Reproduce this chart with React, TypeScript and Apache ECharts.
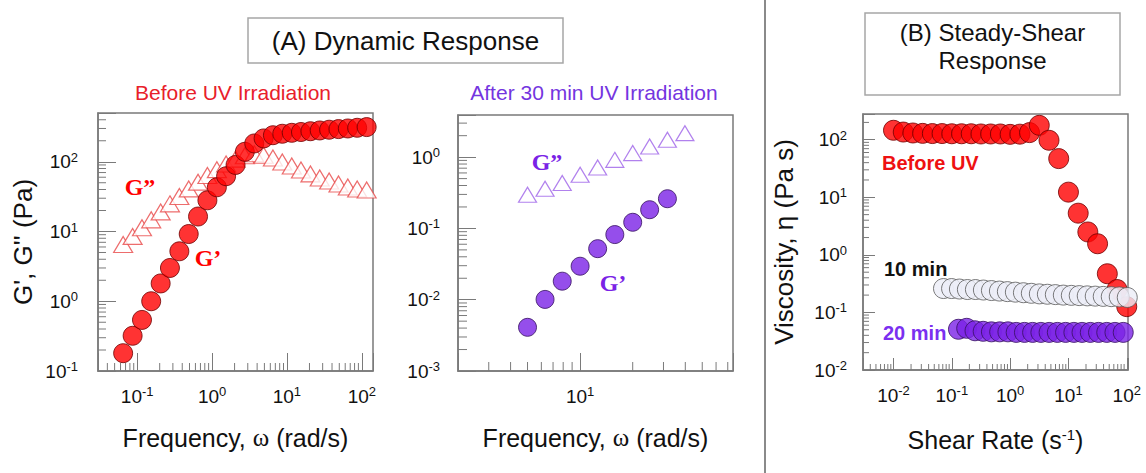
import React, { useEffect, useRef } from 'react';
import * as echarts from 'echarts';

// ---------- Panel A (before UV): frequency sweep ----------
const omegaA = [0.065, 0.087, 0.116, 0.154, 0.206, 0.274, 0.366, 0.488, 0.65, 0.867, 1.16, 1.54, 2.06, 2.74, 3.66, 4.88, 6.5, 8.67, 11.6, 15.4, 20.6, 27.4, 36.6, 48.8, 65, 86.7, 116];
const gPrimeA = [0.18, 0.32, 0.54, 1.0, 1.8, 3.0, 5.2, 9.2, 16.4, 28, 43, 62, 90, 139, 183, 216, 240, 252, 260, 267, 274, 281, 288, 294, 300, 307, 314];
const gDoubleA = [6.5, 8.5, 11.3, 14.7, 19.1, 24.9, 31.8, 40.8, 51, 63.5, 77, 93, 109, 122, 130, 124, 113, 99, 87, 76, 67, 58.5, 53, 48, 43.5, 40.7, 39.4];

// ---------- Panel A (after 30 min UV) ----------
const omegaB = [5.0, 6.3, 7.9, 10, 12.6, 15.8, 20, 25, 31.6, 39.8];
const gPrimeB = [0.0041, 0.0101, 0.0182, 0.0295, 0.052, 0.082, 0.122, 0.183, 0.261];
const gDoubleB = [0.297, 0.36, 0.433, 0.565, 0.716, 0.916, 1.14, 1.41, 1.75, 2.17];

// ---------- Panel B: steady shear ----------
const rateBefore = [0.01, 0.0147, 0.0215, 0.0316, 0.0464, 0.0681, 0.1, 0.147, 0.215, 0.316, 0.464, 0.681, 1, 1.47, 2.15, 3.16, 4.64, 6.81, 10, 14.7, 21.5, 31.6, 46.4, 68.1, 100];
const etaBefore = [146, 136, 131, 129, 128, 128, 127, 127, 127, 126, 126, 126, 124, 125, 133, 178, 98, 47, 12.3, 5.3, 2.5, 1.56, 0.47, 0.25, 0.126];
const rate10 = [0.072, 0.099, 0.135, 0.185, 0.254, 0.348, 0.478, 0.655, 0.897, 1.23, 1.69, 2.31, 3.17, 4.35, 5.96, 8.17, 11.2, 15.3, 21.0, 28.8, 39.5, 54.2, 74.3, 102];
const eta10 = [0.26, 0.26, 0.255, 0.25, 0.25, 0.245, 0.24, 0.235, 0.23, 0.225, 0.22, 0.215, 0.21, 0.207, 0.204, 0.2, 0.198, 0.196, 0.194, 0.192, 0.19, 0.188, 0.186, 0.182];
const rate20 = [0.13, 0.18, 0.25, 0.345, 0.478, 0.662, 0.916, 1.27, 1.76, 2.43, 3.37, 4.66, 6.45, 8.93, 12.4, 17.1, 23.7, 32.8, 45.4, 62.8, 87];
const eta20 = [0.051, 0.053, 0.048, 0.047, 0.046, 0.046, 0.046, 0.045, 0.045, 0.045, 0.045, 0.045, 0.045, 0.045, 0.045, 0.045, 0.045, 0.045, 0.045, 0.045, 0.045];

// axis ranges
const xRanges = [[0.03, 141], [2, 75], [0.003, 105]];
const yRanges = [[0.1, 500], [0.001, 3.9], [0.01, 280]];

const SANS = '"Liberation Sans", Arial, sans-serif';
const SERIF = '"Liberation Serif", "Times New Roman", serif';

const RED = '#ff0000';
const RED_EDGE = '#6e0000';
const RED_TRI = '#e84848';
const PURPLE = '#7a22e6';
const PURPLE_EDGE = '#36105f';
const PURPLE_TRI = '#9d62e8';
const FRAME = '#7a7a7a';

function pairs(xs: number[], ys: number[]) {
  return ys.map((y, i) => [xs[i], y]);
}

function powLabel(v: number) {
  const l = Math.log10(v);
  const e = Math.round(l);
  if (Math.abs(l - e) > 1e-3) return '';
  return `{b|10}{s|${e}}`;
}

const tickRich = {
  b: { fontSize: 19, fontFamily: SANS, color: '#111', lineHeight: 22 },
  s: { fontSize: 13, fontFamily: SANS, color: '#111', lineHeight: 13, verticalAlign: 'top' },
};

function minorValues(min: number, max: number) {
  const out: number[] = [];
  for (let k = Math.floor(Math.log10(min)); k <= Math.ceil(Math.log10(max)); k++) {
    for (let m = 2; m <= 9; m++) {
      const v = m * Math.pow(10, k);
      if (v > min * 1.0001 && v < max * 0.9999) out.push(v);
    }
  }
  return out;
}

const tickLen = [
  { major: 18, minor: 8 },
  { major: 18, minor: 9 },
  { major: 12, minor: 6 },
];

function minorSeries(i: number) {
  const [xmin, xmax] = xRanges[i];
  const [ymin, ymax] = yRanges[i];
  const len = tickLen[i].minor;
  const xs = minorValues(xmin, xmax).map((v) => [v, ymin]);
  const ys = minorValues(ymin, ymax).map((v) => [xmin, v]);
  return [
    {
      type: 'custom',
      xAxisIndex: i,
      yAxisIndex: i,
      encode: { x: 0, y: 1 },
      clip: false,
      z: 5,
      data: xs,
      renderItem: (_p: any, api: any) => {
        const p = api.coord([api.value(0), api.value(1)]);
        return { type: 'line', shape: { x1: p[0], y1: p[1], x2: p[0], y2: p[1] - len }, style: { stroke: FRAME, lineWidth: 1, fill: null } };
      },
    },
    {
      type: 'custom',
      xAxisIndex: i,
      yAxisIndex: i,
      encode: { x: 0, y: 1 },
      clip: false,
      z: 5,
      data: ys,
      renderItem: (_p: any, api: any) => {
        const p = api.coord([api.value(0), api.value(1)]);
        return { type: 'line', shape: { x1: p[0], y1: p[1], x2: p[0] + len, y2: p[1] }, style: { stroke: FRAME, lineWidth: 1, fill: null } };
      },
    },
  ];
}

const nameStyle = {
  fontSize: 25,
  fontFamily: SANS,
  color: '#111',
  rich: {
    w: { fontSize: 25, fontFamily: SERIF, color: '#111' },
    s: { fontSize: 15, fontFamily: SANS, color: '#111', lineHeight: 15, verticalAlign: 'top' },
  },
};
const yNameStyle = { ...nameStyle, fontSize: 26 };

const xNames = ['Frequency, {w|ω} (rad/s)', 'Frequency, {w|ω} (rad/s)', 'Shear Rate (s{s|-1})'];
const yNames = ["G', G'' (Pa)", '', 'Viscosity, η (Pa s)'];
const xNameGap = [54, 54, 57];
const yNameGap = [62, 0, 66];
const yLabelMargin = [20, 18, 16];

function buildOption() {
  const grids = [
    { left: 98, top: 113, width: 275, height: 258 },
    { left: 458, top: 115, width: 275, height: 256 },
    { left: 863, top: 114, width: 265, height: 256 },
  ].map((g) => ({ ...g, show: true, borderColor: FRAME, borderWidth: 1.5, containLabel: false }));

  const axisCommon = (i: number) => ({
    type: 'log',
    logBase: 10,
    gridIndex: i,
    nameLocation: 'middle',
    axisLine: { show: true, onZero: false, lineStyle: { color: FRAME, width: 1.5 } },
    axisTick: { show: true, inside: true, length: tickLen[i].major, lineStyle: { color: FRAME, width: 1 } },
    splitLine: { show: false },
    minorTick: { show: false },
  });

  const xAxis = [0, 1, 2].map((i) => ({
    ...axisCommon(i),
    position: 'bottom',
    min: xRanges[i][0],
    max: xRanges[i][1],
    name: xNames[i],
    nameGap: xNameGap[i],
    nameTextStyle: nameStyle,
    axisLabel: { formatter: powLabel, rich: tickRich, margin: 14, fontSize: 19 },
  }));

  const yAxis = [0, 1, 2].map((i) => ({
    ...axisCommon(i),
    position: 'left',
    min: yRanges[i][0],
    max: yRanges[i][1],
    name: yNames[i],
    nameRotate: 90,
    nameGap: yNameGap[i],
    nameTextStyle: yNameStyle,
    axisLabel: { formatter: powLabel, rich: tickRich, margin: yLabelMargin[i], fontSize: 19 },
  }));

  const scatter = (i: number, data: number[][], opts: any) => ({
    type: 'scatter',
    xAxisIndex: i,
    yAxisIndex: i,
    data,
    z: 4,
    silent: true,
    clip: false,
    ...opts,
  });

  const series: any[] = [
    ...minorSeries(0),
    ...minorSeries(1),
    ...minorSeries(2),
    scatter(0, pairs(omegaA, gDoubleA), {
      symbol: 'triangle',
      symbolSize: [19, 16],
      itemStyle: { color: '#ffffff', borderColor: RED_TRI, borderWidth: 1.2 },
    }),
    scatter(0, pairs(omegaA, gPrimeA), {
      symbol: 'circle',
      symbolSize: 19,
      itemStyle: { color: RED, borderColor: RED_EDGE, borderWidth: 1 },
    }),
    scatter(1, pairs(omegaB, gDoubleB), {
      symbol: 'triangle',
      symbolSize: [18, 15],
      itemStyle: { color: '#ffffff', borderColor: PURPLE_TRI, borderWidth: 1.2 },
    }),
    scatter(1, pairs(omegaB, gPrimeB), {
      symbol: 'circle',
      symbolSize: 18,
      itemStyle: { color: PURPLE, borderColor: PURPLE_EDGE, borderWidth: 1 },
    }),
    scatter(2, pairs(rateBefore, etaBefore), {
      symbol: 'circle',
      symbolSize: 20,
      itemStyle: { color: RED, borderColor: RED_EDGE, borderWidth: 1 },
    }),
    scatter(2, pairs(rate10, eta10), {
      symbol: 'circle',
      symbolSize: 20,
      itemStyle: { color: '#eceef8', borderColor: '#5a5a5a', borderWidth: 1 },
    }),
    scatter(2, pairs(rate20, eta20), {
      symbol: 'circle',
      symbolSize: 20,
      itemStyle: { color: PURPLE, borderColor: PURPLE_EDGE, borderWidth: 1 },
    }),
  ];

  const txt = (x: number, y: number, text: string, font: string, fill: string, align = 'center') => ({
    type: 'text',
    x,
    y,
    z: 10,
    silent: true,
    style: { text, font, fill, align, verticalAlign: 'middle', textAlign: align, textVerticalAlign: 'middle' },
  });

  const graphic: any[] = [
    { type: 'line', shape: { x1: 765, y1: 0, x2: 765, y2: 473 }, style: { stroke: '#8a8a8a', lineWidth: 2 }, silent: true },
    { type: 'rect', shape: { x: 248, y: 18, width: 315, height: 45 }, style: { fill: 'none', stroke: '#a6a6a6', lineWidth: 1.5 }, silent: true },
    txt(405.5, 40.5, '(A) Dynamic Response', `26px ${SANS}`, '#111'),
    { type: 'rect', shape: { x: 865, y: 13, width: 255, height: 82 }, style: { fill: 'none', stroke: '#a6a6a6', lineWidth: 1.5 }, silent: true },
    txt(992.5, 32, '(B) Steady-Shear', `24px ${SANS}`, '#111'),
    txt(992.5, 60, 'Response', `24px ${SANS}`, '#111'),
    txt(233, 92, 'Before UV Irradiation', `21px ${SANS}`, '#e8202a'),
    txt(594, 92, 'After 30 min UV Irradiation', `21px ${SANS}`, '#7435e0'),
    txt(140, 187, 'G\u201D', `bold 24px ${SERIF}`, RED),
    txt(208, 258, 'G\u2019', `bold 24px ${SERIF}`, RED),
    txt(547, 162, 'G\u201D', `bold 24px ${SERIF}`, PURPLE),
    txt(613, 283, 'G\u2019', `bold 24px ${SERIF}`, PURPLE),
    txt(882, 163, 'Before UV', `bold 20px ${SANS}`, '#ee1111', 'left'),
    txt(884, 269, '10 min', `bold 20px ${SANS}`, '#111', 'left'),
    txt(883, 333, '20 min', `bold 20px ${SANS}`, '#7b2ff0', 'left'),
  ];

  return {
    animation: false,
    backgroundColor: '#ffffff',
    textStyle: { fontFamily: SANS },
    grid: grids,
    xAxis,
    yAxis,
    series,
    graphic,
  };
}

export default function App() {
  const ref = useRef<HTMLDivElement>(null);
  useEffect(() => {
    if (!ref.current) return;
    const chart = echarts.init(ref.current, null, { renderer: 'svg' });
    chart.setOption(buildOption() as any);
    return () => chart.dispose();
  }, []);
  return <div ref={ref} style={{ position: 'absolute', left: 0, top: 0, width: 1146, height: 473, background: '#fff' }} />;
}
